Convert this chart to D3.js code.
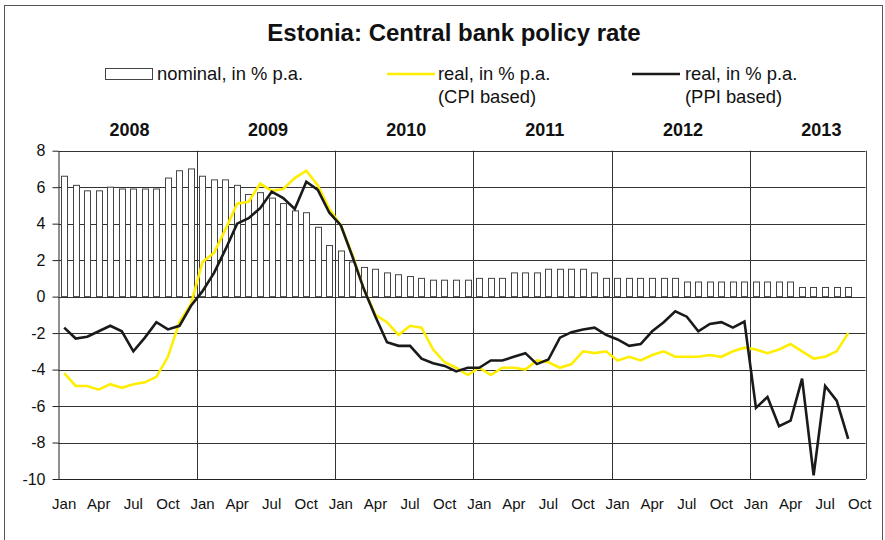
<!DOCTYPE html>
<html><head><meta charset="utf-8">
<script src="https://cdn.jsdelivr.net/npm/d3@7"></script>
<style>
html,body{margin:0;padding:0;background:#fff;}
svg{display:block;font-family:"Liberation Sans",Arial,sans-serif;}
</style></head>
<body><svg id="c" width="885" height="540"></svg>
<script>
const years = ["2008","2009","2010","2011","2012","2013"];
const monthLabels = ["Jan","Apr","Jul","Oct"];
const yTicks = [8,6,4,2,0,-2,-4,-6,-8,-10];
const nominal = [
  6.6,6.1,5.8,5.8,6.0,5.9,5.9,5.9,5.9,6.5,6.9,7.0,
  6.6,6.4,6.4,6.1,5.6,5.7,5.4,5.1,4.7,4.6,3.8,2.8,
  2.5,1.9,1.6,1.5,1.3,1.2,1.1,1.0,0.9,0.9,0.9,0.9,
  1.0,1.0,1.0,1.3,1.3,1.3,1.5,1.5,1.5,1.5,1.3,1.0,
  1.0,1.0,1.0,1.0,1.0,1.0,0.8,0.8,0.8,0.8,0.8,0.8,
  0.8,0.8,0.8,0.8,0.5,0.5,0.5,0.5,0.5,null];
const realCPI = [
  -4.2,-4.9,-4.9,-5.1,-4.8,-5.0,-4.8,-4.7,-4.4,-3.3,-1.4,-0.4,
  1.9,2.4,3.7,5.1,5.2,6.2,5.8,5.9,6.5,6.9,6.1,4.8,
  3.9,2.3,0.4,-1.0,-1.4,-2.1,-1.6,-1.7,-2.9,-3.6,-3.9,-4.3,
  -3.9,-4.3,-3.9,-3.9,-4.0,-3.5,-3.6,-3.9,-3.7,-3.0,-3.1,-3.0,
  -3.5,-3.3,-3.5,-3.2,-3.0,-3.3,-3.3,-3.3,-3.2,-3.3,-3.0,-2.8,
  -2.9,-3.1,-2.9,-2.6,-3.0,-3.4,-3.3,-3.0,-2.0,null];
const realPPI = [
  -1.7,-2.3,-2.2,-1.9,-1.6,-1.9,-3.0,-2.25,-1.4,-1.8,-1.6,-0.5,
  0.3,1.3,2.6,4.0,4.3,4.85,5.75,5.4,4.8,6.3,5.85,4.6,
  3.9,2.2,0.4,-1.1,-2.5,-2.7,-2.7,-3.4,-3.65,-3.8,-4.1,-3.9,
  -3.9,-3.5,-3.5,-3.3,-3.1,-3.7,-3.45,-2.25,-1.95,-1.8,-1.7,-2.1,
  -2.35,-2.7,-2.6,-1.9,-1.4,-0.8,-1.1,-1.9,-1.5,-1.4,-1.7,-1.37,
  -6.1,-5.5,-7.1,-6.8,-4.5,-9.8,-4.9,-5.7,-7.8,null];

const svg = d3.select("#c");
const L = 58.4, R = 865.5, T = 150.7, B = 479;
const idx = d3.range(nominal.length);
const x = d3.scaleBand().domain(idx).range([L, R]).paddingInner(0.45).paddingOuter(0.225);
const xc = i => x(i) + x.bandwidth()/2;
const step = x.step();
const y = d3.scaleLinear().domain([-10, 8]).range([B, T]);

// outer frame
svg.append("rect").attr("x",4.5).attr("y",5.5).attr("width",878).attr("height",545)
  .attr("fill","none").attr("stroke","#555").attr("stroke-width",1);

// title
svg.append("text").attr("x",454).attr("y",41).attr("text-anchor","middle")
  .attr("font-size",24).attr("font-weight","bold").attr("fill","#111")
  .text("Estonia: Central bank policy rate");

// gridlines
svg.append("g").selectAll("line").data(yTicks).join("line")
  .attr("x1",L).attr("x2",R)
  .attr("y1",d=>Math.round(y(d))+0.5).attr("y2",d=>Math.round(y(d))+0.5)
  .attr("stroke","#333").attr("stroke-width",1);

// year separators
const yearStarts = years.map((yr,k)=>k*12);
svg.append("g").selectAll("line").data(yearStarts.slice(1)).join("line")
  .attr("x1",d=>Math.round(x(d) - step*0.225)+0.5).attr("x2",d=>Math.round(x(d) - step*0.225)+0.5)
  .attr("y1",T).attr("y2",B).attr("stroke","#333").attr("stroke-width",1);

// right border
svg.append("line").attr("x1",Math.round(R)+0.5).attr("x2",Math.round(R)+0.5)
  .attr("y1",T).attr("y2",B).attr("stroke","#444");

// y axis
const yAxis = d3.axisLeft(y).tickValues(yTicks).tickSize(6).tickSizeOuter(0).tickFormat(d3.format("d"));
const gy = svg.append("g").attr("transform",`translate(${Math.round(L)+0.5},0)`).call(yAxis);
gy.select(".domain").attr("stroke","#222");
gy.selectAll(".tick line").attr("stroke","#222");
gy.selectAll("text").attr("font-size",16).attr("fill","#111").attr("x",-13)
  .attr("font-family","Liberation Sans, Arial, sans-serif").text(d=>d<0? "-"+Math.abs(d) : d);

// bars
svg.append("g").selectAll("rect").data(idx.filter(i=>nominal[i]!=null)).join("rect")
  .attr("x",i=>Math.round(x(i))+0.5).attr("width",Math.round(x.bandwidth()))
  .attr("y",i=>y(nominal[i])).attr("height",i=>y(0)-y(nominal[i]))
  .attr("fill","#fff").attr("stroke","#444").attr("stroke-width",1);

// x axis bottom line
svg.append("line").attr("x1",L).attr("x2",R).attr("y1",Math.round(B)+0.5).attr("y2",Math.round(B)+0.5)
  .attr("stroke","#222");

// lines
const lineGen = arr => d3.line().defined(i=>arr[i]!=null).x(i=>xc(i)).y(i=>y(arr[i]))(idx);
svg.append("path").attr("d",lineGen(realCPI)).attr("fill","none")
  .attr("stroke","#ffee00").attr("stroke-width",2.6).attr("stroke-linejoin","miter");
svg.append("path").attr("d",lineGen(realPPI)).attr("fill","none")
  .attr("stroke","#1a1a1a").attr("stroke-width",2.6).attr("stroke-linejoin","miter");

// x tick labels (Jan/Apr/Jul/Oct)
const xLab = idx.filter(i=>i%3===0);
svg.append("g").selectAll("text").data(xLab).join("text")
  .attr("x",i=>xc(i)).attr("y",509).attr("text-anchor","middle")
  .attr("font-size",15).attr("fill","#111")
  .text(i=>monthLabels[(i%12)/3]);

// year labels
svg.append("g").selectAll("text").data(years).join("text")
  .attr("x",(d,k)=>{const s=k*12; const e=Math.min(s+12, idx.length); return (x(s)-step*0.225 + (k===years.length-1? x(s)-step*0.225+12*step : x(e)-step*0.225))/2 + 2;})
  .attr("y",136).attr("text-anchor","middle").attr("font-size",18).attr("font-weight","bold").attr("fill","#111")
  .text(d=>d);

// legend
const lg = svg.append("g");
lg.append("rect").attr("x",105.5).attr("y",68.5).attr("width",47).attr("height",11)
  .attr("fill","#fff").attr("stroke","#444");
lg.append("text").attr("x",157).attr("y",80).attr("font-size",18.4).attr("fill","#111").text("nominal, in % p.a.");
lg.append("line").attr("x1",387).attr("x2",435).attr("y1",74).attr("y2",74).attr("stroke","#ffee00").attr("stroke-width",2.6);
lg.append("text").attr("x",438).attr("y",80).attr("font-size",18.4).attr("fill","#111").text("real, in % p.a.");
lg.append("text").attr("x",438).attr("y",103).attr("font-size",18.4).attr("fill","#111").text("(CPI based)");
lg.append("line").attr("x1",632).attr("x2",680).attr("y1",74).attr("y2",74).attr("stroke","#1a1a1a").attr("stroke-width",2.6);
lg.append("text").attr("x",685).attr("y",80).attr("font-size",18.4).attr("fill","#111").text("real, in % p.a.");
lg.append("text").attr("x",685).attr("y",103).attr("font-size",18.4).attr("fill","#111").text("(PPI based)");
</script></body></html>
